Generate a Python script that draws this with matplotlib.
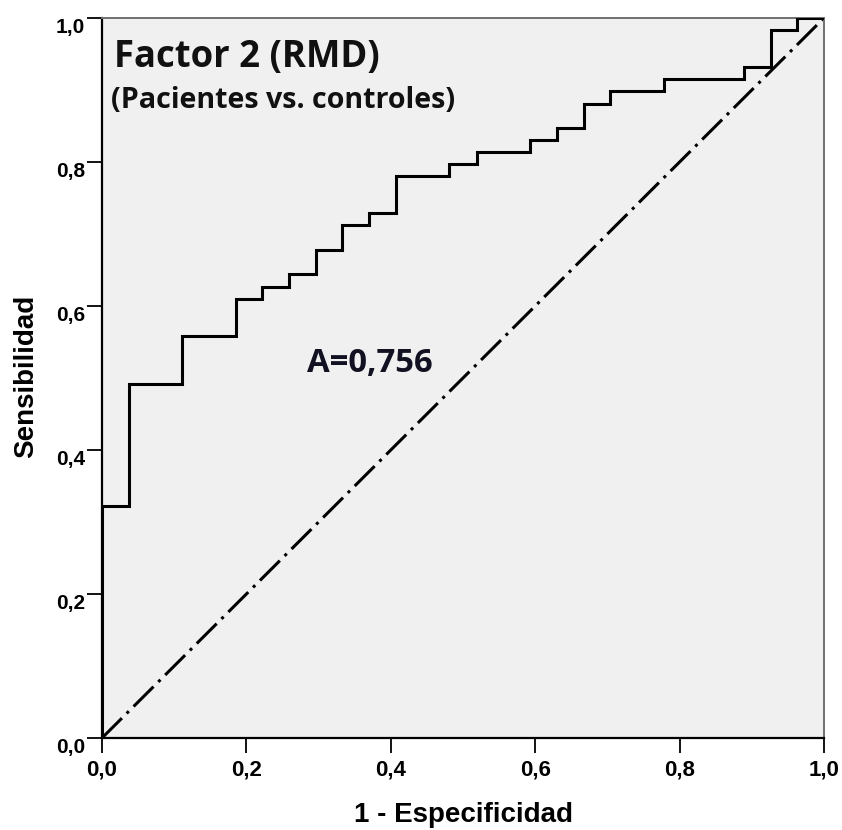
import matplotlib
matplotlib.use("Agg")
import matplotlib.pyplot as plt
import numpy as np

# ROC curve points (1 - specificity, sensitivity)
fpr = [0.0, 0.0, 0.037, 0.037, 0.111, 0.111, 0.185, 0.185, 0.222, 0.222,
       0.259, 0.259, 0.296, 0.296, 0.333, 0.333, 0.370, 0.370, 0.407, 0.407,
       0.481, 0.481, 0.519, 0.519, 0.593, 0.593, 0.630, 0.630, 0.667, 0.667,
       0.704, 0.704, 0.778, 0.778, 0.889, 0.889, 0.926, 0.926, 0.963, 0.963, 1.0]
tpr = [0.0, 0.322, 0.322, 0.492, 0.492, 0.559, 0.559, 0.610, 0.610, 0.627,
       0.627, 0.644, 0.644, 0.678, 0.678, 0.712, 0.712, 0.729, 0.729, 0.780,
       0.780, 0.797, 0.797, 0.814, 0.814, 0.831, 0.831, 0.847, 0.847, 0.881,
       0.881, 0.898, 0.898, 0.915, 0.915, 0.932, 0.932, 0.983, 0.983, 1.0, 1.0]
ref_x = [0.0, 1.0]
ref_y = [0.0, 1.0]
ticks = [0.0, 0.2, 0.4, 0.6, 0.8, 1.0]
tick_labels = ["0,0", "0,2", "0,4", "0,6", "0,8", "1,0"]

SANS = ["Liberation Sans", "DejaVu Sans"]
TITLE = ["Open Sans", "DejaVu Sans"]

fig = plt.figure(figsize=(8.42, 8.30), dpi=100)
ax = fig.add_axes([102/842, 92/830, 722/842, 720/830])
ax.set_facecolor("#F0F0F0")

ax.plot(ref_x, ref_y, color="black", lw=2.2, linestyle=(0, (9.2, 2.2, 1, 2.2)), zorder=2)
ax.plot(fpr, tpr, color="black", lw=2.2, solid_joinstyle="miter", zorder=3)

ax.set_xlim(0, 1)
ax.set_ylim(0, 1)
ax.set_xticks(ticks)
ax.set_yticks(ticks)
ax.set_xticklabels(tick_labels, family=SANS, fontweight="bold", fontsize=16)
ax.set_yticklabels(tick_labels, family=SANS, fontweight="bold", fontsize=15)
for lab in ax.get_yticklabels():
    lab.set_va("top")
ax.tick_params(axis="x", direction="out", length=10.5, width=1.3, color="black", pad=5.3)
ax.tick_params(axis="y", direction="out", length=10.5, width=1.3, color="black", pad=1.5)

for s in ["left", "bottom"]:
    ax.spines[s].set_color("black")
    ax.spines[s].set_linewidth(1.6)
for s in ["top", "right"]:
    ax.spines[s].set_color("#707070")
    ax.spines[s].set_linewidth(1.4)

fig.text(463.5/842, (830-822)/830, "1 - Especificidad", family=SANS, fontweight="bold",
         fontsize=20, ha="center", va="baseline")
fig.text(33.5/842, (830-376)/830, "Sensibilidad", family=SANS, fontweight="bold",
         fontsize=20, ha="center", va="baseline", rotation=90, rotation_mode="anchor")

ax.text(0.017, 0.9324, "Factor 2 (RMD)", transform=ax.transAxes, fontsize=26.3,
        fontweight="bold", family=TITLE, va="baseline", ha="left", color="#111111")
ax.text(0.013, 0.875, "(Pacientes vs. controles)", transform=ax.transAxes, fontsize=20.6,
        fontweight="bold", family=TITLE, va="baseline", ha="left", color="#111111")
ax.text(0.284, 0.509, "A=0,756", transform=ax.transAxes, fontsize=23.7,
        fontweight="bold", family=TITLE, va="baseline", ha="left", color="#111122")

fig.savefig("out.png", dpi=100, facecolor="white")
